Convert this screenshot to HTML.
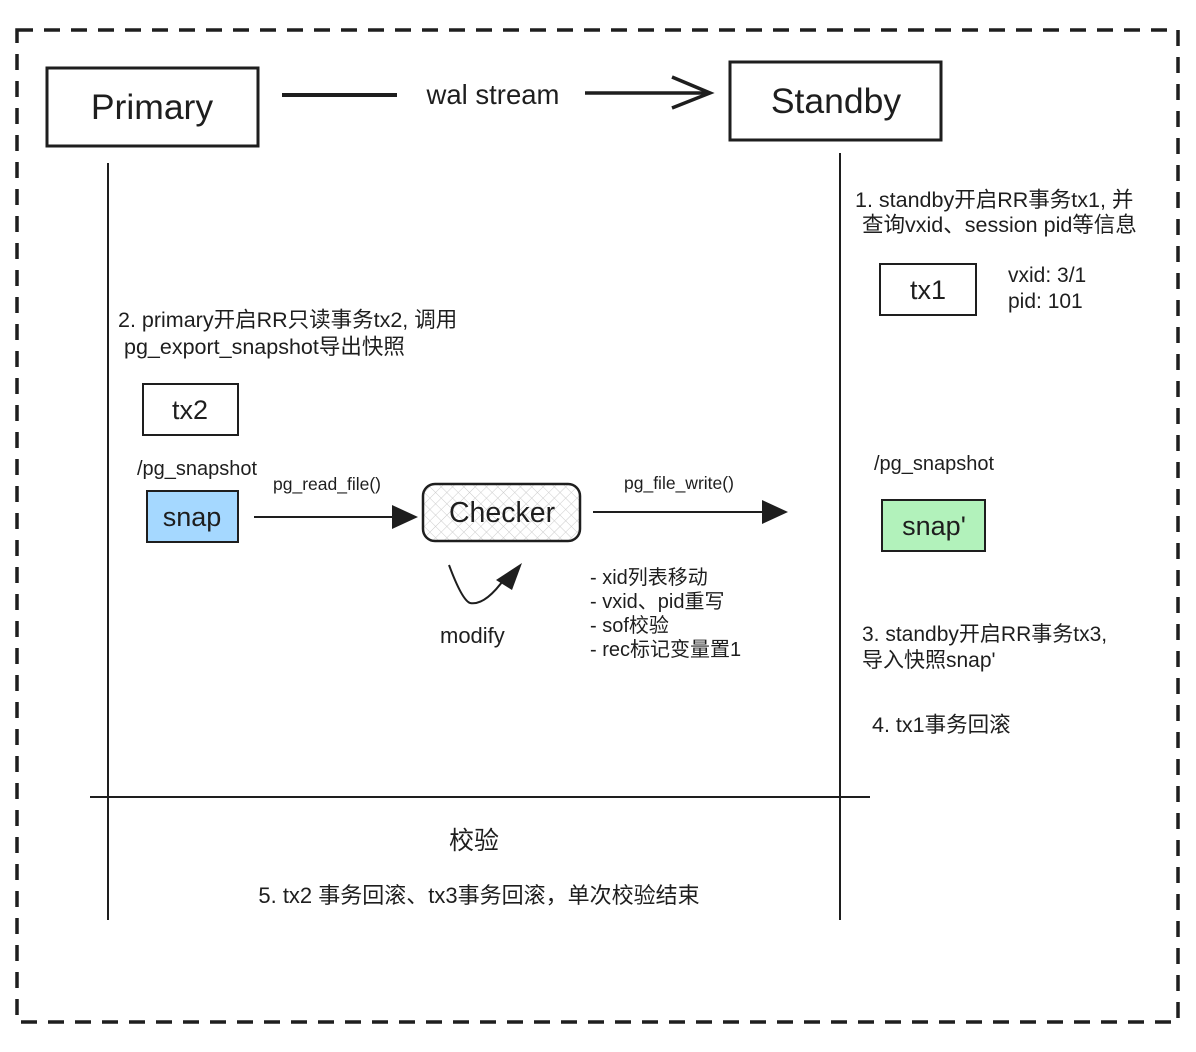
<!DOCTYPE html>
<html><head><meta charset="utf-8"><style>
html,body{margin:0;padding:0;background:#fff;}
svg{display:block;}
text{font-family:"Liberation Sans","Noto Sans CJK SC",sans-serif;fill:#1e1e1e;}
</style></head><body>
<svg width="1196" height="1052" viewBox="0 0 1196 1052" xmlns="http://www.w3.org/2000/svg">
<defs>
<pattern id="h" width="8" height="8" patternUnits="userSpaceOnUse" patternTransform="rotate(45)">
<line x1="0" y1="0" x2="0" y2="8" stroke="#ccc" stroke-width="1"/>
<line x1="0" y1="0" x2="8" y2="0" stroke="#ccc" stroke-width="1"/>
</pattern>
</defs>
<rect x="17" y="30" width="1161" height="992" fill="none" stroke="#1e1e1e" stroke-width="3.5" stroke-dasharray="16 11"/>
<rect x="47" y="68" width="211" height="78" fill="#fff" stroke="#1e1e1e" stroke-width="3"/>
<text x="152" y="119" font-size="35.5" text-anchor="middle">Primary</text>
<rect x="730" y="62" width="211" height="78" fill="#fff" stroke="#1e1e1e" stroke-width="3"/>
<text x="836" y="113" font-size="35.5" text-anchor="middle">Standby</text>
<line x1="282" y1="95" x2="397" y2="95" stroke="#1e1e1e" stroke-width="4"/>
<text x="493" y="104" font-size="27.5" text-anchor="middle">wal stream</text>
<line x1="585" y1="93" x2="708" y2="93" stroke="#1e1e1e" stroke-width="3.5"/>
<polyline points="672,77 710,93 672,108" fill="none" stroke="#1e1e1e" stroke-width="3.5"/>
<line x1="108" y1="163" x2="108" y2="920" stroke="#1e1e1e" stroke-width="2"/>
<line x1="840" y1="153" x2="840" y2="920" stroke="#1e1e1e" stroke-width="2"/>
<line x1="90" y1="797" x2="870" y2="797" stroke="#1e1e1e" stroke-width="2"/>
<text x="855" y="207" font-size="21.5">1. standby开启RR事务tx1, 并</text>
<text x="862" y="232" font-size="21.5">查询vxid、session pid等信息</text>
<rect x="880" y="264" width="96" height="51" fill="#fff" stroke="#1e1e1e" stroke-width="2"/>
<text x="928" y="299" font-size="27" text-anchor="middle">tx1</text>
<text x="1008" y="282" font-size="21">vxid: 3/1</text>
<text x="1008" y="308" font-size="21">pid: 101</text>
<text x="118" y="327" font-size="21.5">2. primary开启RR只读事务tx2, 调用</text>
<text x="124" y="354" font-size="21.5">pg_export_snapshot导出快照</text>
<rect x="143" y="384" width="95" height="51" fill="#fff" stroke="#1e1e1e" stroke-width="2"/>
<text x="190" y="419" font-size="27" text-anchor="middle">tx2</text>
<text x="137" y="475" font-size="20">/pg_snapshot</text>
<rect x="147" y="491" width="91" height="51" fill="#a5d8ff" stroke="#1e1e1e" stroke-width="2"/>
<text x="192" y="526" font-size="27" text-anchor="middle">snap</text>
<line x1="254" y1="517" x2="395" y2="517" stroke="#1e1e1e" stroke-width="2"/>
<polygon points="392,505 418,517 392,529" fill="#1e1e1e"/>
<text x="273" y="490" font-size="17.5">pg_read_file()</text>
<rect x="423" y="484" width="157" height="57" rx="12" fill="url(#h)" stroke="#1e1e1e" stroke-width="2.5"/>
<text x="502" y="522" font-size="28.5" text-anchor="middle">Checker</text>
<line x1="593" y1="512" x2="765" y2="512" stroke="#1e1e1e" stroke-width="2"/>
<polygon points="762,500 788,512 762,524" fill="#1e1e1e"/>
<text x="624" y="489" font-size="17.5">pg_file_write()</text>
<path d="M449,565 Q462,600 470,603 Q485,606 505,578" fill="none" stroke="#1e1e1e" stroke-width="2"/>
<polygon points="496,580 522,563 512,590" fill="#1e1e1e"/>
<text x="440" y="643" font-size="22">modify</text>
<text x="590" y="584" font-size="20">- xid列表移动</text>
<text x="590" y="608" font-size="20">- vxid、pid重写</text>
<text x="590" y="632" font-size="20">- sof校验</text>
<text x="590" y="656" font-size="20">- rec标记变量置1</text>
<text x="874" y="470" font-size="20">/pg_snapshot</text>
<rect x="882" y="500" width="103" height="51" fill="#b2f2bb" stroke="#1e1e1e" stroke-width="2"/>
<text x="934" y="535" font-size="27" text-anchor="middle">snap'</text>
<text x="862" y="641" font-size="21">3. standby开启RR事务tx3,</text>
<text x="862" y="667" font-size="21">导入快照snap'</text>
<text x="872" y="732" font-size="21.5">4. tx1事务回滚</text>
<text x="474" y="849" font-size="25" text-anchor="middle">校验</text>
<text x="479" y="903" font-size="22" text-anchor="middle">5. tx2 事务回滚、tx3事务回滚，单次校验结束</text>
</svg>
</body></html>
